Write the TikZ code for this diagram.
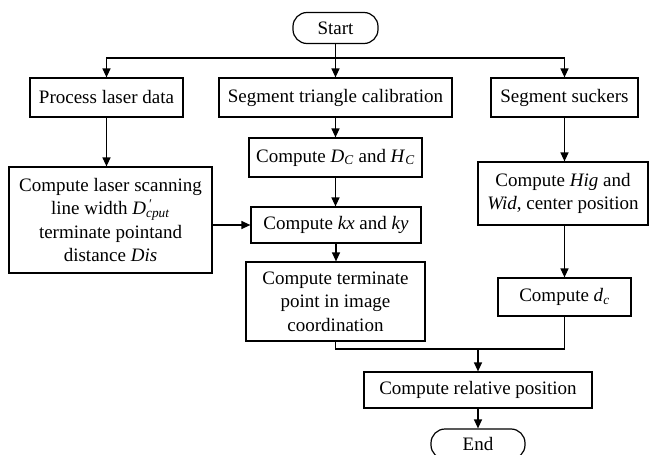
\documentclass[tikz,border=0pt]{standalone}
\usepackage{fontspec}
\setmainfont{Liberation Serif}
\usetikzlibrary{arrows.meta}
\newcommand{\isub}[2]{\textit{#1}\textsubscript{\textit{#2}}}
\begin{document}
\begin{tikzpicture}[x=1pt,y=-1pt,
  box/.style={draw, line width=1.2pt, align=center, inner sep=2pt, font=\fontsize{19}{23.5}\selectfont},
  term/.style={box, rounded corners=14pt},
  arr/.style={-{Triangle[length=9pt,width=8pt]}, line width=1.2pt},
  ln/.style={line width=1.2pt}]
\useasboundingbox (0,0) rectangle (649,455);
\node[term, minimum width=85pt, minimum height=31pt] (start) at (335.5,28) {Start};
\node[box, minimum width=153pt, minimum height=39pt] (pld) at (106.5,97.5) {Process laser data};
\node[box, minimum width=233pt, minimum height=39pt] (stc) at (335.5,97.5) {Segment triangle calibration};
\node[box, minimum width=147pt, minimum height=39pt] (ss) at (564.5,97.5) {Segment suckers};
\node[box, minimum width=203pt, minimum height=106pt] (cls) at (110.5,220) {Compute laser scanning\\line width \textit{D}\rlap{\textsuperscript{\,\textit{\char"2032}}}\textsubscript{\textit{cput}}\\terminate pointand\\distance \textit{Dis}};
\node[box, minimum width=173pt, minimum height=39pt] (dchc) at (335.5,157.5) {Compute \isub{D}{C} and \isub{H}{C}};
\node[box, minimum width=170pt, minimum height=36pt] (kxky) at (336,225) {Compute \textit{kx} and \textit{ky}};
\node[box, minimum width=179pt, minimum height=79pt] (ctp) at (335.5,301.5) {Compute terminate\\point in image\\coordination};
\node[box, minimum width=170pt, minimum height=63pt] (hig) at (563,193.5) {Compute \textit{Hig} and\\\textit{Wid}, center position};
\node[box, minimum width=133pt, minimum height=38pt] (dc) at (564.5,297) {Compute \isub{d}{c}};
\node[box, minimum width=228pt, minimum height=36pt] (rel) at (478,390) {Compute relative position};
\node[term, minimum width=94pt, minimum height=30pt] (end) at (478,444) {End};
\coordinate (j) at (335.5,58);
\coordinate (m) at (478,349);
\draw[arr] (start.south) -- (stc.north);
\draw[arr] (j) -| (pld.north);
\draw[arr] (j) -| (ss.north);
\draw[arr] (pld.south) -- (pld.south |- cls.north);
\draw[arr] (stc.south) -- (dchc.north);
\draw[arr] (dchc.south) -- (dchc.south |- kxky.north);
\draw[arr] (kxky.south) -- (kxky.south |- ctp.north);
\draw[arr] (cls.east |- kxky.west) -- (kxky.west);
\draw[arr] (ss.south) -- (ss.south |- hig.north);
\draw[arr] (dc.north |- hig.south) -- (dc.north);
\draw[ln] (ctp.south) |- (m);
\draw[ln] (dc.south) |- (m);
\draw[arr] (m) -- (rel.north);
\draw[arr] (rel.south) -- (end.north);
\end{tikzpicture}
\end{document}
